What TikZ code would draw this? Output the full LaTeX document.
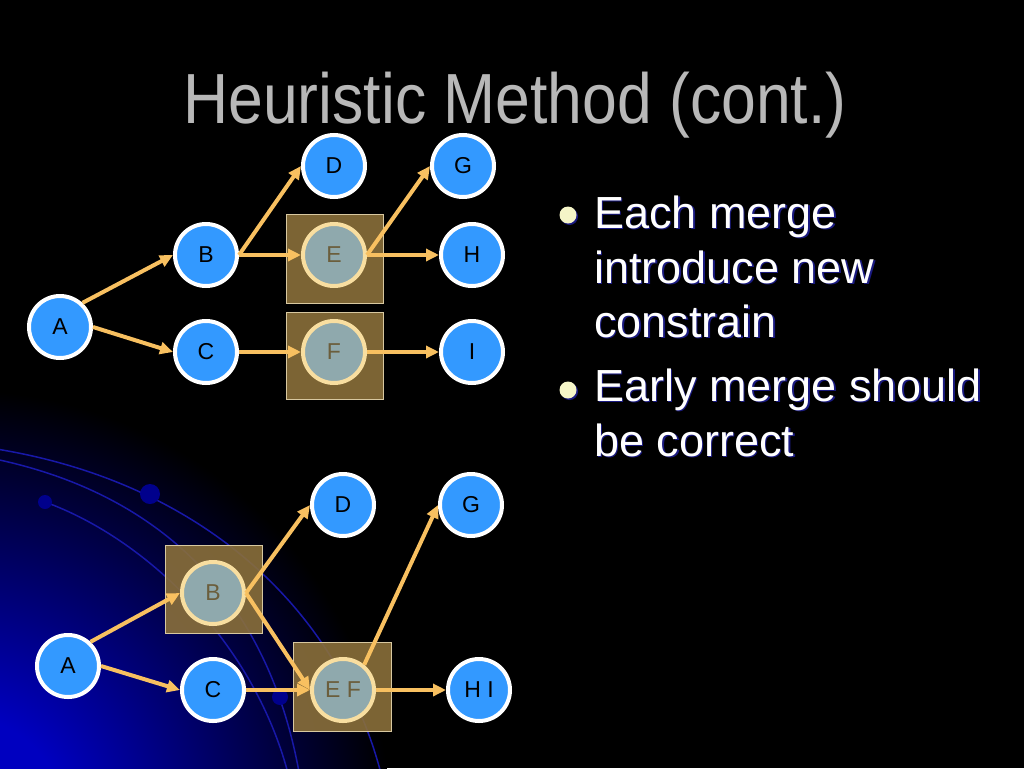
\documentclass[tikz,border=0pt]{standalone}
\usepackage{fontspec}
\setmainfont{Liberation Sans}
\newfontfamily\titlefont[FakeStretch=0.88]{Liberation Sans}
\usetikzlibrary{arrows.meta}

\definecolor{nodeblue}{HTML}{3399FF}
\definecolor{mergefill}{HTML}{8FA9AD}
\definecolor{mergeline}{HTML}{F8DEA0}
\definecolor{mergetext}{HTML}{6B5E3C}
\definecolor{boxfill}{HTML}{8A6F3A}
\definecolor{boxline}{HTML}{D8C8A0}
\definecolor{arrowcol}{HTML}{F8C060}
\definecolor{titlegray}{HTML}{B8B8B8}
\definecolor{bulletcol}{HTML}{F5F5C8}
\definecolor{shadowblue}{HTML}{1A1A80}
\definecolor{planetblue}{HTML}{0000C0}
\definecolor{orbit}{HTML}{1818A8}
\definecolor{moon}{HTML}{00008C}

\pgfdeclareradialshading{planet}{\pgfpoint{0bp}{0bp}}{color(0bp)=(planetblue); color(6bp)=(planetblue); color(25bp)=(black); color(50bp)=(black)}

\tikzset{
  vert/.style={circle, draw=white, fill=nodeblue, line width=4pt, minimum size=62pt,
    inner sep=0pt, font=\fontsize{23}{23}\selectfont},
  merged/.style={vert, draw=mergeline, fill=mergefill, text=mergetext},
  mergebox/.style={draw=boxline, fill=boxfill, line width=1pt, fill opacity=0.9},
  flow/.style={arrowcol, line width=4pt, ->},
  bodytext/.style={anchor=base west, text=white, inner sep=0pt, font=\fontsize{45}{45}\selectfont},
  bullet/.style={circle, fill=bulletcol, minimum size=17pt, inner sep=0pt},
}

% one line of the bullet text, with its blue shadow
\newcommand{\bodyline}[3]{%
  \node[bodytext, text=shadowblue] at (595.5,#2+1.5) {#3};
  \node[bodytext] (#1) at (594,#2) {#3};}

\begin{document}
\begin{tikzpicture}[x=1pt, y=-1pt, >={Triangle[length=13pt,width=12pt]}]
    \useasboundingbox (0,0) rectangle (1024,768);
    \fill[black] (0,0) rectangle (1024,768);

    % background planet and orbits
    \begin{scope}
        \clip (0,0) rectangle (1024,768);
        \shade[shading=planet] (-40,820) circle (430);
        \draw[orbit, line width=1.5pt] (-10,448) .. controls (200,480) and (345,610) .. (385,790);
        \draw[orbit, line width=1.5pt] (-10,458) .. controls (150,490) and (272,590) .. (302,790);
        \draw[orbit, line width=1.5pt] (45,502) .. controls (150,540) and (262,650) .. (292,790);
        \fill[moon] (150,494) circle (10);
        \fill[moon] (45,502) circle (7);
        \fill[moon] (280,697) circle (8);
    \end{scope}

    \node[anchor=base, text=titlegray, font=\titlefont\fontsize{71}{71}\selectfont] (title) at (515,123) {Heuristic Method (cont.)};

    % first graph
    \draw[mergebox] (286,214) rectangle (383,303);
    \draw[mergebox] (286,312) rectangle (383,399);
    \node[vert] (a1) at (60,327) {A};
    \node[vert] (b1) at (206,255) {B};
    \node[vert] (c1) at (206,352) {C};
    \node[vert] (d1) at (334,166) {D};
    \node[merged] (e1) at (334,255) {E};
    \node[merged] (f1) at (334,352) {F};
    \node[vert] (g1) at (463,166) {G};
    \node[vert] (h1) at (472,255) {H};
    \node[vert] (i1) at (472,352) {I};
    \draw[flow] (a1.47) -- (b1.west);
    \draw[flow] (a1.east) -- (c1.west);
    \draw[flow] (b1.east) -- (d1.west);
    \draw[flow] (b1.east) -- (e1.west);
    \draw[flow] (c1.east) -- (f1.west);
    \draw[flow] (e1.east) -- (g1.west);
    \draw[flow] (e1.east) -- (h1.west);
    \draw[flow] (f1.east) -- (i1.west);

    % second graph
    \draw[mergebox] (165,545) rectangle (262,633);
    \draw[mergebox] (293,642) rectangle (391,731);
    \node[vert] (a2) at (68,666) {A};
    \node[merged] (b2) at (213,593) {B};
    \node[vert] (c2) at (213,690) {C};
    \node[vert] (d2) at (343,505) {D};
    \node[merged] (ef2) at (343,690) {E F};
    \node[vert] (g2) at (471,505) {G};
    \node[vert] (hi2) at (479,690) {H I};
    \draw[flow] (a2.47) -- (b2.west);
    \draw[flow] (a2.east) -- (c2.west);
    \draw[flow] (b2.east) -- (d2.west);
    \draw[flow] (b2.east) -- (ef2.west);
    \draw[flow] (c2.east) -- (ef2.west);
    \draw[flow] (ef2.50) -- (g2.west);
    \draw[flow] (ef2.east) -- (hi2.west);

    % bullet text
    \node[bullet, fill=shadowblue] at (569.5,216.5) {};
    \node[bullet] (bul1) at (568,215) {};
    \node[bullet, fill=shadowblue] at (569.5,391.5) {};
    \node[bullet] (bul2) at (568,390) {};
    \bodyline{t1}{228}{Each merge}
    \bodyline{t2}{283}{introduce new}
    \bodyline{t3}{337}{constrain}
    \bodyline{t4}{401}{Early merge should}
    \bodyline{t5}{456}{be correct}
\end{tikzpicture}
\end{document}
